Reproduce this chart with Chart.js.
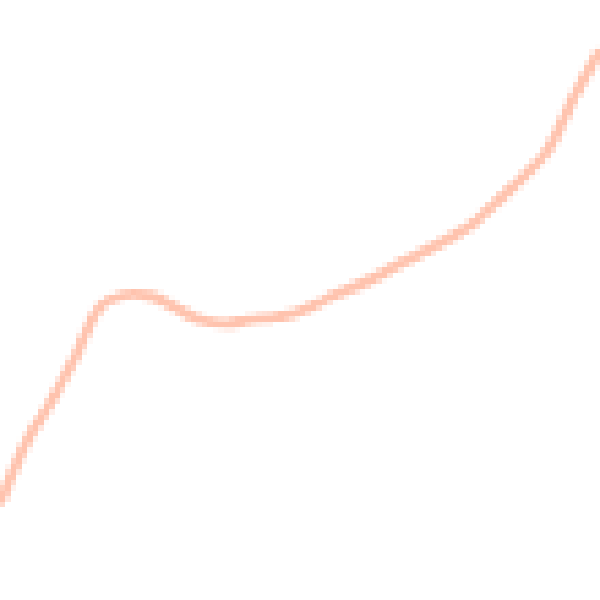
<!DOCTYPE html>
<html>
<head>
<meta charset="utf-8">
<script src="https://cdn.jsdelivr.net/npm/chart.js@4/dist/chart.umd.min.js"></script>
<style>
  html, body { margin: 0; padding: 0; background: #fff; }
  canvas { display: block; image-rendering: pixelated; }
</style>
</head>
<body>
<canvas id="c" width="110" height="110" style="width:600px;height:600px"></canvas>
<script>
// x positions (0..600) and heights (0 = bottom, 600 = top)
const labels = [0, 25, 50, 75, 100, 125, 150, 175, 200, 225, 250, 275, 300,
                325, 350, 375, 400, 425, 450, 475, 500, 525, 550, 575, 600];
const values = [96, 155, 197, 242, 293, 305, 304, 293, 280, 276, 280, 283, 288,
                300, 311, 323, 336, 348, 362, 378, 401, 425, 453, 505, 550];

new Chart(document.getElementById('c'), {
    type: 'line',
    data: {
        labels,
        datasets: [{
            data: values,
            borderColor: 'rgba(255, 140, 100, 0.52)',
            borderWidth: 1.9,
            pointRadius: 0,
            tension: 0.4,
            fill: false
        }]
    },
    options: {
        responsive: false,
        devicePixelRatio: 1,
        animation: false,
        layout: { padding: 0 },
        plugins: { legend: { display: false }, tooltip: { enabled: false } },
        scales: {
            x: { display: false, offset: false },
            y: { display: false, min: 0, max: 600 }
        }
    }
});
</script>
</body>
</html>
